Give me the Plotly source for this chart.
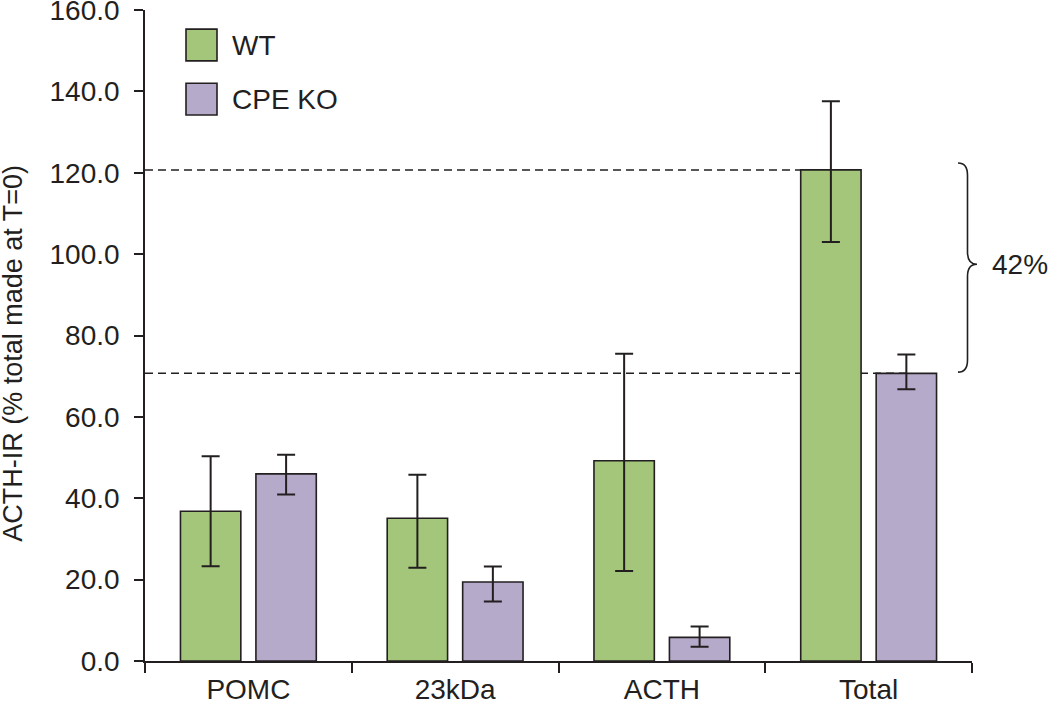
import plotly.graph_objects as go

categories = ["POMC", "23kDa", "ACTH", "Total"]
wt_values = [36.8, 35.1, 49.2, 120.7]
wt_err_plus = [13.5, 10.7, 26.3, 16.9]
wt_err_minus = [13.5, 12.2, 27.1, 17.7]
ko_values = [46.0, 19.4, 5.8, 70.7]
ko_err_plus = [4.7, 3.8, 2.7, 4.6]
ko_err_minus = [5.1, 4.8, 2.3, 3.9]
series_names = ["WT", "CPE KO"]
y_ticks = [0, 20, 40, 60, 80, 100, 120, 140, 160]
bracket_label = "42%"

GREEN = "#A3C67A"
PURPLE = "#B6AACB"
EDGE = "#231F20"
FONT = "Liberation Sans, Arial, Helvetica, sans-serif"
FS = 28

fig = go.Figure()
fig.add_trace(go.Bar(
    x=categories, y=wt_values, name=series_names[0],
    marker=dict(color=GREEN, line=dict(color=EDGE, width=1.6)),
    error_y=dict(type="data", array=wt_err_plus, arrayminus=wt_err_minus,
                 symmetric=False, color=EDGE, thickness=2, width=9),
    showlegend=False,
))
fig.add_trace(go.Bar(
    x=categories, y=ko_values, name=series_names[1],
    marker=dict(color=PURPLE, line=dict(color=EDGE, width=1.6)),
    error_y=dict(type="data", array=ko_err_plus, arrayminus=ko_err_minus,
                 symmetric=False, color=EDGE, thickness=2, width=9),
    showlegend=False,
))

shapes = []
# dashed reference lines at the two "Total" bar heights
shapes.append(dict(type="line", xref="x", yref="y", x0=-0.5, x1=2.8,
                   y0=wt_values[3], y1=wt_values[3], layer="below",
                   line=dict(color=EDGE, width=1.5, dash="8px,5px")))
shapes.append(dict(type="line", xref="x", yref="y", x0=-0.5, x1=3.2,
                   y0=ko_values[3], y1=ko_values[3], layer="below",
                   line=dict(color=EDGE, width=1.5, dash="8px,5px")))

# curly brace between the two totals
def px_to_paper(px):
    return (px - 145) / 827.0

xa, xb, xc = px_to_paper(958), px_to_paper(967.5), px_to_paper(977)
ytop, ybot = wt_values[3] + 1.7, ko_values[3] + 0.3
ymid = 97.5
path = (f"M {xa},{ytop} Q {xb},{ytop} {xb},{ytop-3} "
        f"L {xb},{ymid+3} Q {xb},{ymid} {xc},{ymid} "
        f"Q {xb},{ymid} {xb},{ymid-3} "
        f"L {xb},{ybot+3} Q {xb},{ybot} {xa},{ybot}")
shapes.append(dict(type="path", xref="paper", yref="y", path=path,
                   line=dict(color=EDGE, width=1.6)))

# manual legend boxes
shapes.append(dict(type="rect", xref="paper", yref="y",
                   x0=px_to_paper(186), x1=px_to_paper(217), y0=147.5, y1=155.3,
                   fillcolor=GREEN, line=dict(color=EDGE, width=1.6)))
shapes.append(dict(type="rect", xref="paper", yref="y",
                   x0=px_to_paper(186), x1=px_to_paper(217), y0=134.2, y1=142.0,
                   fillcolor=PURPLE, line=dict(color=EDGE, width=1.6)))

annotations = [
    dict(text=series_names[0], xref="paper", yref="y", x=px_to_paper(230), y=151.3,
         xanchor="left", yanchor="middle", showarrow=False,
         font=dict(family=FONT, size=FS, color=EDGE)),
    dict(text=series_names[1], xref="paper", yref="y", x=px_to_paper(230), y=138.0,
         xanchor="left", yanchor="middle", showarrow=False,
         font=dict(family=FONT, size=FS, color=EDGE)),
    dict(text=bracket_label, xref="paper", yref="y", x=px_to_paper(990), y=ymid,
         xanchor="left", yanchor="middle", showarrow=False,
         font=dict(family=FONT, size=FS, color=EDGE)),
    dict(text="ACTH-IR (% total made at T=0)", xref="paper", yref="y",
         x=0, xshift=-132, y=75.5, textangle=-90, showarrow=False,
         xanchor="center", yanchor="middle",
         font=dict(family=FONT, size=27, color=EDGE)),
]

fig.update_layout(
    width=1050, height=704,
    margin=dict(l=145, r=78, t=10, b=43),
    paper_bgcolor="white", plot_bgcolor="white",
    barmode="group", bargap=0.27, bargroupgap=0.2,
    shapes=shapes, annotations=annotations,
    font=dict(family=FONT, size=FS, color=EDGE),
    xaxis=dict(
        type="category", range=[-0.5, 3.5], automargin=False,
        showline=True, linecolor=EDGE, linewidth=1.6,
        ticks="outside", tickson="boundaries", ticklen=10, tickwidth=1.6,
        tickcolor=EDGE, showgrid=False, zeroline=False,
        tickfont=dict(family=FONT, size=FS, color=EDGE),
        ticklabelstandoff=3,
    ),
    yaxis=dict(
        range=[0, 160], tickvals=y_ticks, tickformat=".1f", automargin=False,
        showline=True, linecolor=EDGE, linewidth=1.6,
        ticks="outside", ticklen=9, tickwidth=1.6, tickcolor=EDGE,
        showgrid=False, zeroline=False, ticklabeloverflow="allow",
        tickfont=dict(family=FONT, size=FS, color=EDGE),
        ticklabelstandoff=9,
    ),
)

fig.write_html("out.html", config={"displayModeBar": False},
               post_script="document.body.style.margin='0';document.body.style.overflow='hidden';")
